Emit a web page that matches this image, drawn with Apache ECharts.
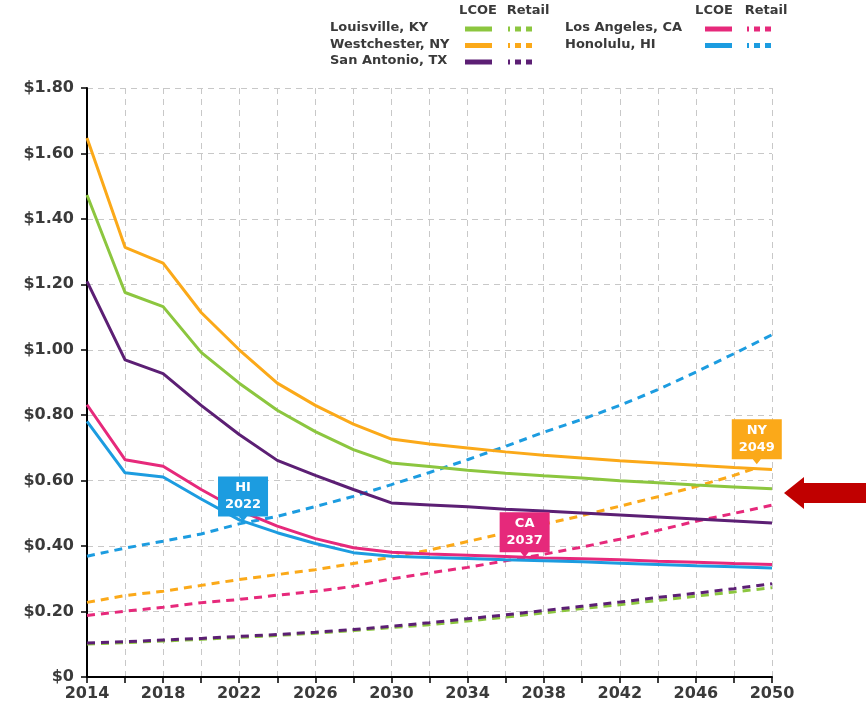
<!DOCTYPE html>
<html><head><meta charset="utf-8">
<script src="https://cdn.jsdelivr.net/npm/echarts@6/dist/echarts.min.js"></script>
<style>html,body{margin:0;padding:0;background:#fff}#c{width:866px;height:703px}</style>
</head><body><div id="c"></div>
<script>
// ---------- data ----------
const years = [2014,2016,2018,2020,2022,2024,2026,2028,2030,2032,2034,2036,2038,2040,2042,2044,2046,2048,2050];
const yearsNYRetail = [2014,2016,2018,2020,2022,2024,2026,2028,2030,2032,2034,2036,2038,2040,2042,2044,2046,2048,2049];
const cities = ['Louisville, KY','Westchester, NY','San Antonio, TX','Los Angeles, CA','Honolulu, HI'];

const lcoeKY = [1.473,1.175,1.132,0.992,0.898,0.815,0.750,0.695,0.654,0.643,0.632,0.623,0.615,0.608,0.600,0.594,0.587,0.581,0.575];
const lcoeNY = [1.647,1.313,1.265,1.114,1.000,0.898,0.830,0.773,0.727,0.712,0.700,0.688,0.678,0.669,0.661,0.654,0.647,0.640,0.634];
const lcoeTX = [1.209,0.969,0.927,0.830,0.741,0.662,0.616,0.573,0.532,0.526,0.520,0.513,0.507,0.501,0.495,0.489,0.483,0.477,0.471];
const lcoeCA = [0.832,0.664,0.644,0.573,0.509,0.461,0.423,0.395,0.381,0.376,0.372,0.368,0.364,0.361,0.358,0.354,0.351,0.347,0.344];
const lcoeHI = [0.781,0.624,0.611,0.544,0.480,0.441,0.408,0.380,0.369,0.365,0.362,0.358,0.355,0.352,0.348,0.344,0.340,0.337,0.333];

const retailKY = [0.101,0.105,0.110,0.115,0.121,0.127,0.134,0.142,0.151,0.160,0.171,0.183,0.196,0.209,0.221,0.234,0.247,0.260,0.273];
const retailNY = [0.228,0.249,0.262,0.280,0.298,0.313,0.328,0.347,0.366,0.388,0.414,0.440,0.467,0.493,0.522,0.551,0.582,0.616,0.636];
const retailTX = [0.104,0.108,0.113,0.118,0.124,0.130,0.137,0.145,0.155,0.166,0.178,0.190,0.203,0.216,0.229,0.243,0.256,0.270,0.285];
const retailCA = [0.188,0.201,0.213,0.227,0.237,0.250,0.262,0.277,0.300,0.318,0.335,0.355,0.375,0.397,0.421,0.448,0.476,0.500,0.525];
const retailHI = [0.369,0.394,0.415,0.437,0.468,0.491,0.521,0.552,0.588,0.625,0.664,0.705,0.748,0.787,0.830,0.878,0.932,0.988,1.046];

const calloutCity = [4, 3, 1];
const calloutYears = [2022.2, 2037, 2049.2];
const calloutValues = [0.475, 0.366, 0.650];
const calloutText = ['HI\n2022', 'CA\n2037', 'NY\n2049'];

const legendHeaders = ['LCOE', 'Retail'];

// ---------- styles ----------
const colors = ['#8cc63f', '#fba919', '#5c1f74', '#e6297b', '#1c9ce0'];
const FONT = '"DejaVu Sans", sans-serif';
const TXT = '#3a3a3a';

const lcoe = [lcoeKY, lcoeNY, lcoeTX, lcoeCA, lcoeHI];
const retail = [retailKY, retailNY, retailTX, retailCA, retailHI];
const retailYears = [years, yearsNYRetail, years, years, years];

const series = [];
cities.forEach((c, i) => {
  series.push({
    type: 'line', name: c + ' Retail', showSymbol: false, z: 2,
    data: retailYears[i].map((y, j) => [y, retail[i][j]]),
    lineStyle: { color: colors[i], width: 3, type: [8, 6] }
  });
});
cities.forEach((c, i) => {
  const s = {
    type: 'line', name: c + ' LCOE', showSymbol: false, z: 3,
    data: years.map((y, j) => [y, lcoe[i][j]]),
    lineStyle: { color: colors[i], width: 3 }
  };
  const k = calloutCity.indexOf(i);
  if (k >= 0) {
    s.markPoint = {
      silent: true, z: 10,
      symbol: 'path://M0,0H50V40H29L25,45L21,40H0Z',
      symbolSize: [50, 45], symbolOffset: [0, '-50%'],
      itemStyle: { color: colors[i] },
      label: { show: true, position: 'inside', offset: [0, -2.5], formatter: calloutText[k],
        color: '#fff', fontFamily: FONT, fontWeight: 'bold', fontSize: 13, lineHeight: 17 },
      data: [{ coord: [calloutYears[k], calloutValues[k]] }]
    };
  }
  series.push(s);
});

// legend graphics
const graphic = [];
function txt(t, x, y, align) {
  graphic.push({ type: 'text', x, y, silent: true,
    style: { text: t, fill: TXT, font: 'bold 13px ' + FONT, align: align || 'left', verticalAlign: 'middle' } });
}
const groups = [
  { idx: [0, 1, 2], nameX: 330, solid: [465, 492], dash: [508, 537], hdr: [478, 528] },
  { idx: [3, 4], nameX: 565, solid: [705, 732], dash: [747, 775], hdr: [714, 766] }
];
const rowY = [28, 44.5, 61];
groups.forEach(g => {
  txt(legendHeaders[0], g.hdr[0], 11, 'center');
  txt(legendHeaders[1], g.hdr[1], 11, 'center');
  g.idx.forEach((ci, r) => {
    txt(cities[ci], g.nameX, rowY[r]);
    graphic.push({ type: 'line', silent: true, shape: { x1: g.solid[0], y1: rowY[r] + 1, x2: g.solid[1], y2: rowY[r] + 1 },
      style: { stroke: colors[ci], lineWidth: 5 } });
    graphic.push({ type: 'line', silent: true, shape: { x1: g.dash[0], y1: rowY[r] + 1, x2: g.dash[1], y2: rowY[r] + 1 },
      style: { stroke: colors[ci], lineWidth: 5, lineDash: [6, 5], lineDashOffset: 4 } });
  });
});
// red arrow annotation
graphic.push({ type: 'polygon', silent: true,
  shape: { points: [[784, 493], [804, 477], [804, 483], [866, 483], [866, 503], [804, 503], [804, 509]] },
  style: { fill: '#c00000' } });

const axisLabelBase = { color: TXT, fontFamily: FONT, fontWeight: 'bold', fontSize: 16 };
const splitLine = { show: true, lineStyle: { color: '#c8c8c8', width: 1, type: [6, 5] } };

const chart = echarts.init(document.getElementById('c'), null, { renderer: 'canvas' });
chart.setOption({
  animation: false,
  grid: { left: 87, right: 94, top: 88, bottom: 26, containLabel: false },
  xAxis: {
    type: 'value', min: 2014, max: 2050, interval: 2,
    axisLine: { show: true, onZero: false, lineStyle: { color: '#000', width: 2 } },
    axisTick: { show: true, length: 6, lineStyle: { color: '#000', width: 1.5 } },
    axisLabel: Object.assign({ margin: 9, formatter: v => ((v - 2014) % 4 === 0 ? String(v) : '') }, axisLabelBase),
    splitLine
  },
  yAxis: {
    type: 'value', min: 0, max: 1.8, interval: 0.2,
    axisLine: { show: true, lineStyle: { color: '#000', width: 2 } },
    axisTick: { show: true, length: 6, lineStyle: { color: '#000', width: 1.5 } },
    axisLabel: Object.assign({ margin: 13, formatter: v => (v === 0 ? '$0' : '$' + v.toFixed(2)) }, axisLabelBase),
    splitLine
  },
  series,
  graphic
});
</script>
</body></html>
